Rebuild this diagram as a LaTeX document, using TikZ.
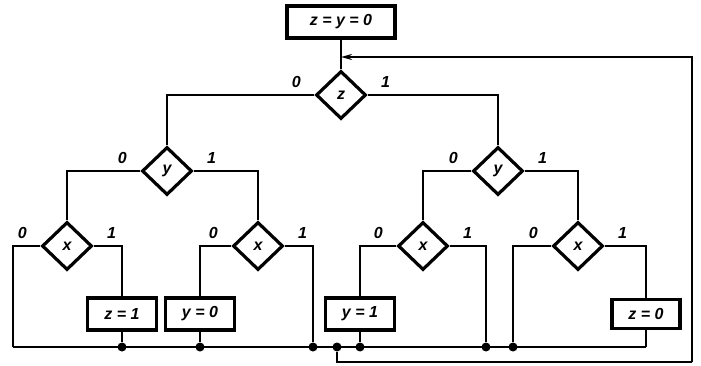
\documentclass[tikz,border=0pt]{standalone}
\usepackage{fontspec}
\setmainfont{Liberation Sans}
\usetikzlibrary{shapes.geometric,arrows.meta,calc}
\begin{document}
\begin{tikzpicture}[x=1pt,y=-1pt,
  wire/.style={line width=2.2pt,line join=miter},
  txt/.style={font=\fontsize{16}{18}\selectfont\bfseries\itshape},
  cond/.style={diamond,draw,line width=3.2pt,minimum width=50pt,minimum height=48pt,inner sep=0pt,txt},
  act/.style={rectangle,draw,line width=3.2pt,minimum width=69pt,minimum height=32pt,inner sep=0pt,txt},
  lbl/.style={txt,inner sep=0pt},
  dot/.style={circle,fill,inner sep=0pt,minimum size=9pt}]
\useasboundingbox (0,0) rectangle (701,366);

% initial assignment and the decision tree
\node[act,minimum width=108pt] (init) at (341,22) {z = y = 0};
\node[cond] (z) at (341,95) {z};
\node[cond] (yl) at (167,171) {y};
\node[cond] (yr) at (498,171) {y};
\node[cond] (x1) at (67,246) {x};
\node[cond] (x2) at (258,246) {x};
\node[cond] (x3) at (423,246) {x};
\node[cond] (x4) at (578,246) {x};

% actions
\node[act] (z1) at (122,314) {z = 1};
\node[act] (y0) at (200,314) {y = 0};
\node[act] (y1) at (360,314) {y = 1};
\node[act,minimum width=68pt,minimum height=29pt] (z0) at (646,314) {z = 0};

% branch labels
\foreach \d in {z,yl,yr,x1,x2,x3,x4}{
  \node[lbl] (\d-0) at ($(\d.west)+(-18,-13)$) {0};
  \node[lbl] (\d-1) at ($(\d.east)+(18,-13)$) {1};
}

% junctions on the collecting line
\coordinate (bl) at (13,347);
\coordinate (br) at (646,347);
\node[dot] (j1) at (122,347) {};
\node[dot] (j2) at (200,347) {};
\node[dot] (j3) at (313,347) {};
\node[dot] (j4) at (337,347) {};
\node[dot] (j5) at (360,347) {};
\node[dot] (j6) at (486,347) {};
\node[dot] (j7) at (513,347) {};
\coordinate (loopr) at (692,362);
\coordinate (entry) at (341,57);

% tree connections
\draw[wire] (init) -- (z);
\draw[wire] (z.west) -| (yl.north);
\draw[wire] (z.east) -| (yr.north);
\draw[wire] (yl.west) -| (x1.north);
\draw[wire] (yl.east) -| (x2.north);
\draw[wire] (yr.west) -| (x3.north);
\draw[wire] (yr.east) -| (x4.north);
\draw[wire] (x1.west) -| (bl);
\draw[wire] (x1.east) -| (z1.north);
\draw[wire] (x2.west) -| (y0.north);
\draw[wire] (x2.east) -| (j3);
\draw[wire] (x3.west) -| (y1.north);
\draw[wire] (x3.east) -| (j6);
\draw[wire] (x4.west) -| (j7);
\draw[wire] (x4.east) -| (z0.north);
\draw[wire] (z1.south) -- (j1);
\draw[wire] (y0.south) -- (j2);
\draw[wire] (y1.south) -- (j5);
\draw[wire] (z0.south) -- (br);
\draw[wire] (bl) -- (br);

% return path
\draw[wire] (j4) |- (loopr);
\draw[wire,-{Stealth[length=11pt,width=6pt]}] (loopr) |- (entry);
\end{tikzpicture}
\end{document}
